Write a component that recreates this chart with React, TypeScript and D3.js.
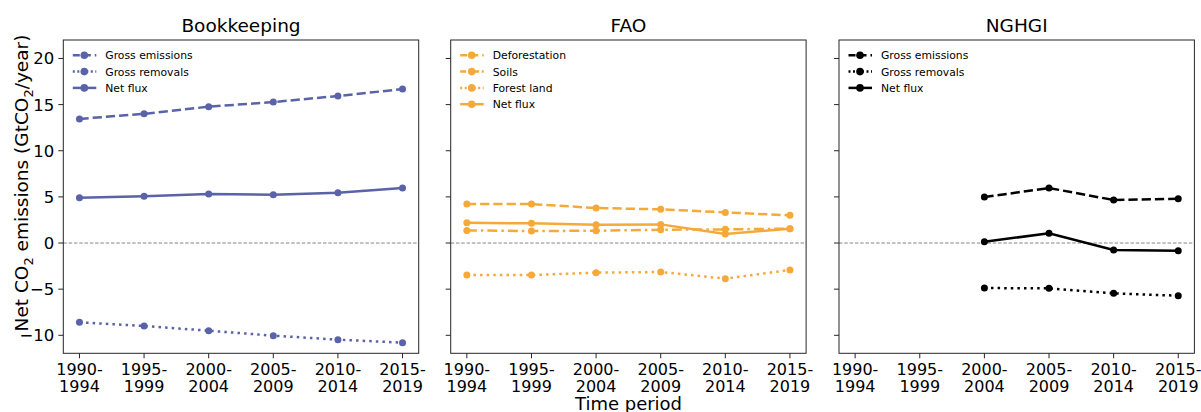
import React from "react";
import * as d3 from "d3";

const periods = ["1990-\n1994", "1995-\n1999", "2000-\n2004", "2005-\n2009", "2010-\n2014", "2015-\n2019"];
const yTicks = [-10, -5, 0, 5, 10, 15, 20];

const bkGrossEmissions = [13.45, 14.0, 14.77, 15.28, 15.93, 16.68];
const bkGrossRemovals = [-8.59, -8.99, -9.5, -10.04, -10.47, -10.8];
const bkNetFlux = [4.9, 5.06, 5.3, 5.23, 5.45, 5.96];

const faoDeforestation = [4.22, 4.22, 3.79, 3.65, 3.32, 3.0];
const faoSoils = [1.37, 1.3, 1.33, 1.44, 1.48, 1.55];
const faoForestLand = [-3.47, -3.47, -3.21, -3.14, -3.86, -2.92];
const faoNetFlux = [2.2, 2.13, 1.98, 2.02, 0.97, 1.55];

const ngGrossEmissions = [null, null, 4.98, 5.96, 4.66, 4.8];
const ngGrossRemovals = [null, null, -4.88, -4.91, -5.45, -5.71];
const ngNetFlux = [null, null, 0.14, 1.05, -0.76, -0.83];

const BLUE = "#5a62a8";
const ORANGE = "#f6a939";
const BLACK = "#000000";

const DASH = "9.25,4";
const DOT = "2.5,4.1";
const DASHDOT = "10,4,2.5,4";

type Series = { name: string; values: (number | null)[]; dash: string | null };
type Panel = { title: string; color: string; series: Series[] };

const panels: Panel[] = [
  {
    title: "Bookkeeping",
    color: BLUE,
    series: [
      { name: "Gross emissions", values: bkGrossEmissions, dash: DASH },
      { name: "Gross removals", values: bkGrossRemovals, dash: DOT },
      { name: "Net flux", values: bkNetFlux, dash: null },
    ],
  },
  {
    title: "FAO",
    color: ORANGE,
    series: [
      { name: "Deforestation", values: faoDeforestation, dash: DASH },
      { name: "Soils", values: faoSoils, dash: DASHDOT },
      { name: "Forest land", values: faoForestLand, dash: DOT },
      { name: "Net flux", values: faoNetFlux, dash: null },
    ],
  },
  {
    title: "NGHGI",
    color: BLACK,
    series: [
      { name: "Gross emissions", values: ngGrossEmissions, dash: DASH },
      { name: "Gross removals", values: ngGrossRemovals, dash: DOT },
      { name: "Net flux", values: ngNetFlux, dash: null },
    ],
  },
];

const panelLefts = [63.3, 450.7, 839];
const panelW = 355.4;
const top = 40;
const bottom = 353.3;
const FONT = "DejaVu Sans, sans-serif";

export default function App() {
  const y = d3.scaleLinear().domain([-11.95, 22.0]).range([bottom, top]);
  return (
    <svg width={1201} height={412} style={{ position: "absolute", left: 0, top: 0 }} fontFamily={FONT}>
      <rect x={0} y={0} width={1201} height={412} fill="#fff" />
      {panels.map((p, pi) => {
        const left = panelLefts[pi];
        const x = d3.scaleLinear().domain([-0.25, 5.25]).range([left, left + panelW]);
        const line = d3
          .line<number | null>()
          .defined((d) => d !== null)
          .x((_, i) => x(i))
          .y((d) => y(d as number));
        return (
          <g key={pi}>
            <text x={left + panelW / 2} y={32} textAnchor="middle" fontSize={18.5} fill="#000">
              {p.title}
            </text>
            <line x1={left} x2={left + panelW} y1={y(0)} y2={y(0)} stroke="#777" strokeWidth={0.9} strokeDasharray="3.5,1.8" />
            {p.series.map((s, si) => (
              <g key={si}>
                <path d={line(s.values) || ""} fill="none" stroke={p.color} strokeWidth={2.5} strokeDasharray={s.dash || undefined} />
                {s.values.map((v, i) =>
                  v === null ? null : <circle key={i} cx={x(i)} cy={y(v)} r={3.5} fill={p.color} />
                )}
              </g>
            ))}
            {/* legend */}
            {p.series.map((s, si) => {
              const ly = 55.3 + si * 16.3;
              return (
                <g key={"l" + si}>
                  <line x1={left + 9.5} x2={left + 33} y1={ly} y2={ly} stroke={p.color} strokeWidth={2.5} strokeDasharray={s.dash ? (s.dash === DASH ? "7,4" : s.dash === DOT ? "2,2.5" : "6,2.5,2,2.5") : undefined} />
                  <circle cx={left + 21} cy={ly} r={3.8} fill={p.color} />
                  <text x={left + 42} y={ly + 3.9} fontSize={10.8} fill="#000">
                    {s.name}
                  </text>
                </g>
              );
            })}
            <rect x={left} y={top} width={panelW} height={bottom - top} fill="none" stroke="#262626" strokeWidth={1} />
            {/* y ticks */}
            {yTicks.map((t) => (
              <g key={t}>
                <line x1={left - 5} x2={left} y1={y(t)} y2={y(t)} stroke="#262626" strokeWidth={1} />
                {pi === 0 && (
                  <text x={left - 9} y={y(t) + 6} textAnchor="end" fontSize={16.5} fill="#000">
                    {t < 0 ? "\u2212" + Math.abs(t) : t}
                  </text>
                )}
              </g>
            ))}
            {/* x ticks */}
            {periods.map((lab, i) => {
              const parts = lab.split("\n");
              return (
                <g key={i}>
                  <line x1={x(i)} x2={x(i)} y1={bottom} y2={bottom + 5} stroke="#262626" strokeWidth={1} />
                  <text x={x(i)} y={375} textAnchor="middle" fontSize={16} fill="#000">
                    <tspan x={x(i)}>{parts[0]}</tspan>
                    <tspan x={x(i)} dy={17}>{parts[1]}</tspan>
                  </text>
                </g>
              );
            })}
          </g>
        );
      })}
      <text x={628.5} y={410} textAnchor="middle" fontSize={18} fill="#000">
        Time period
      </text>
      <text transform={`translate(28,183) rotate(-90)`} textAnchor="middle" fontSize={18.5} fill="#000">
        Net CO<tspan fontSize={13} dy={5}>2</tspan>
        <tspan dy={-5}> emissions (GtCO</tspan>
        <tspan fontSize={13} dy={5}>2</tspan>
        <tspan dy={-5}>/year)</tspan>
      </text>
    </svg>
  );
}
